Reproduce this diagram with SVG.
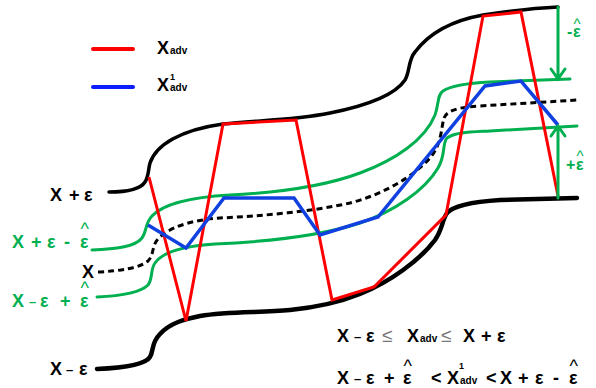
<svg xmlns="http://www.w3.org/2000/svg" width="596" height="388" viewBox="0 0 596 388">
<style>
.t{font-family:"Liberation Sans",Arial,sans-serif;font-weight:bold;font-size:18px}
.k{fill:#000}
.g{fill:#00b050}
.s{font-size:10px}
.sup{font-size:9px}
.d{font-size:13px}
.h{font-weight:normal;font-size:18px}
.hs{font-weight:normal;font-size:15px}
.le{font-family:"Liberation Sans",Arial,sans-serif;font-size:19px;fill:#777}
.bk{fill:none;stroke:#000;stroke-linecap:round}
.gr{fill:none;stroke:#00b050;stroke-width:3;stroke-linecap:round}
.rd{fill:none;stroke:#ff0000;stroke-width:3;stroke-linejoin:miter}
.bl{fill:none;stroke:#1040e0;stroke-width:3.5;stroke-linejoin:miter}
.ds{fill:none;stroke:#000;stroke-width:3;stroke-dasharray:6 4}
</style>
<g id="bounds">
<path id="upper" class="bk" stroke-width="3.5" d="M109,192 C125,192 140,190 145,182 C149,176 148,170 150,163 C156,145 180,130 223,124 C255,120 290,121 330,113 C365,106 395,95 405,80 C410,72 408,60 415,52 C430,32 455,20 483,15 C510,11 535,8 558,7"/>
<path id="lower" class="bk" stroke-width="4.5" d="M97,369 C120,368 145,365 150,357 C154,350 151,343 160,334 C170,323 185,319 200,316 C230,311 260,313 290,310 C320,307 340,302 360,294 C390,282 420,260 435,240 C443,228 442,220 447,213 C453,206 470,202 500,200 L577,198"/>
<path id="gupper" class="gr" d="M92,250 C115,249 135,247 142,238 C147,231 145,223 152,216 C165,202 195,197 230,195 C270,193 320,188 360,173 C395,160 425,140 435,115 C439,104 437,95 443,91 C452,85 470,83 490,82 L570,79"/>
<path id="glower" class="gr" d="M97,297 C120,296 140,293 148,285 C153,279 150,270 155,263 C163,251 185,246 215,244 C260,242 320,236 360,223 C395,211 425,190 438,168 C446,155 442,143 447,138 C455,132 470,132 490,131 L577,126"/>
<path id="xdash" class="ds" d="M98,272 C120,271 140,268 148,261 C154,255 152,245 158,239 C168,228 190,220 220,218 C260,216 310,212 350,203 C385,194 415,175 430,158 C442,144 441,128 444,118 C447,110 460,107 480,106 L577,100"/>
</g>
<g id="connectors">
<polyline id="xadv" class="rd" points="149,177 186,321 223,124 296,120 332,300 374,287 446,215 483,16 521,12 558,196"/>
<polyline id="xadv1" class="bl" points="148,225 186,248 224,198 294,198 320,235 378,217 485,86 521,81 558,125"/>
<path class="gr" d="M558,7 L558,79 M551,69 L558,79 L565,69"/>
<path class="gr" d="M558,198 L558,126 M551,136 L558,126 L565,136"/>
</g>
<g id="legend">
<line x1="93" y1="49" x2="133" y2="49" stroke="#ff0000" stroke-width="4" stroke-linecap="round"/>
<line x1="93" y1="87" x2="133" y2="87" stroke="#0a1eff" stroke-width="4" stroke-linecap="round"/>
<text class="t k" x="157" y="54">X<tspan class="s" x="170">adv</tspan></text>
<text class="t k" x="157" y="91">X<tspan class="s" x="170">adv</tspan><tspan class="sup" x="170" y="80">1</tspan></text>
</g>
<g id="labels">
<text class="t k" y="201"><tspan x="50">X</tspan><tspan x="69">+</tspan><tspan x="84">ε</tspan></text>
<text class="t g" y="248"><tspan x="12">X</tspan><tspan x="31">+</tspan><tspan x="47">ε</tspan><tspan x="64">-</tspan><tspan x="80">ε</tspan><tspan class="h" x="80.5" dy="-13">^</tspan></text>
<text class="t k" x="82" y="278">X</text>
<text class="t g" y="307"><tspan x="12">X</tspan><tspan class="d" x="29" y="306">–</tspan><tspan x="40" y="307">ε</tspan><tspan x="60">+</tspan><tspan x="80">ε</tspan><tspan class="h" x="80.5" dy="-13">^</tspan></text>
<text class="t k" y="375"><tspan x="50">X</tspan><tspan class="d" x="66" y="374">–</tspan><tspan x="79" y="375">ε</tspan></text>
<text class="t g" style="font-size:16px" y="37"><tspan x="567">-</tspan><tspan x="573">ε</tspan><tspan class="hs" x="573.5" dy="-8">^</tspan></text>
<text class="t g" style="font-size:16px" y="170"><tspan x="566">+</tspan><tspan x="576">ε</tspan><tspan class="hs" x="576.5" dy="-9.5">^</tspan></text>
</g>
<g id="formulas">
<text class="t k" y="342"><tspan x="337">X</tspan><tspan class="d" x="354" y="341">–</tspan><tspan x="366" y="342">ε</tspan></text>
<text class="le" x="382" y="342">≤</text>
<text class="t k" x="407" y="342">X<tspan class="s" x="420">adv</tspan></text>
<text class="le" x="441" y="342">≤</text>
<text class="t k" y="342"><tspan x="463">X</tspan><tspan x="481">+</tspan><tspan x="497">ε</tspan></text>
<text class="t k" y="384"><tspan x="337">X</tspan><tspan class="d" x="354" y="383">–</tspan><tspan x="366" y="384">ε</tspan><tspan x="384">+</tspan><tspan x="403">ε</tspan><tspan class="h" x="403.5" dy="-12">^</tspan></text>
<text class="t k" x="431" y="384">&lt;</text>
<text class="t k" x="447" y="384">X<tspan class="s" x="460">adv</tspan><tspan class="sup" x="459" y="369">1</tspan></text>
<text class="t k" x="486" y="384">&lt;</text>
<text class="t k" y="384"><tspan x="500">X</tspan><tspan x="518">+</tspan><tspan x="535">ε</tspan><tspan x="553">-</tspan><tspan x="569">ε</tspan><tspan class="h" x="569.5" dy="-12">^</tspan></text>
</g>
</svg>
